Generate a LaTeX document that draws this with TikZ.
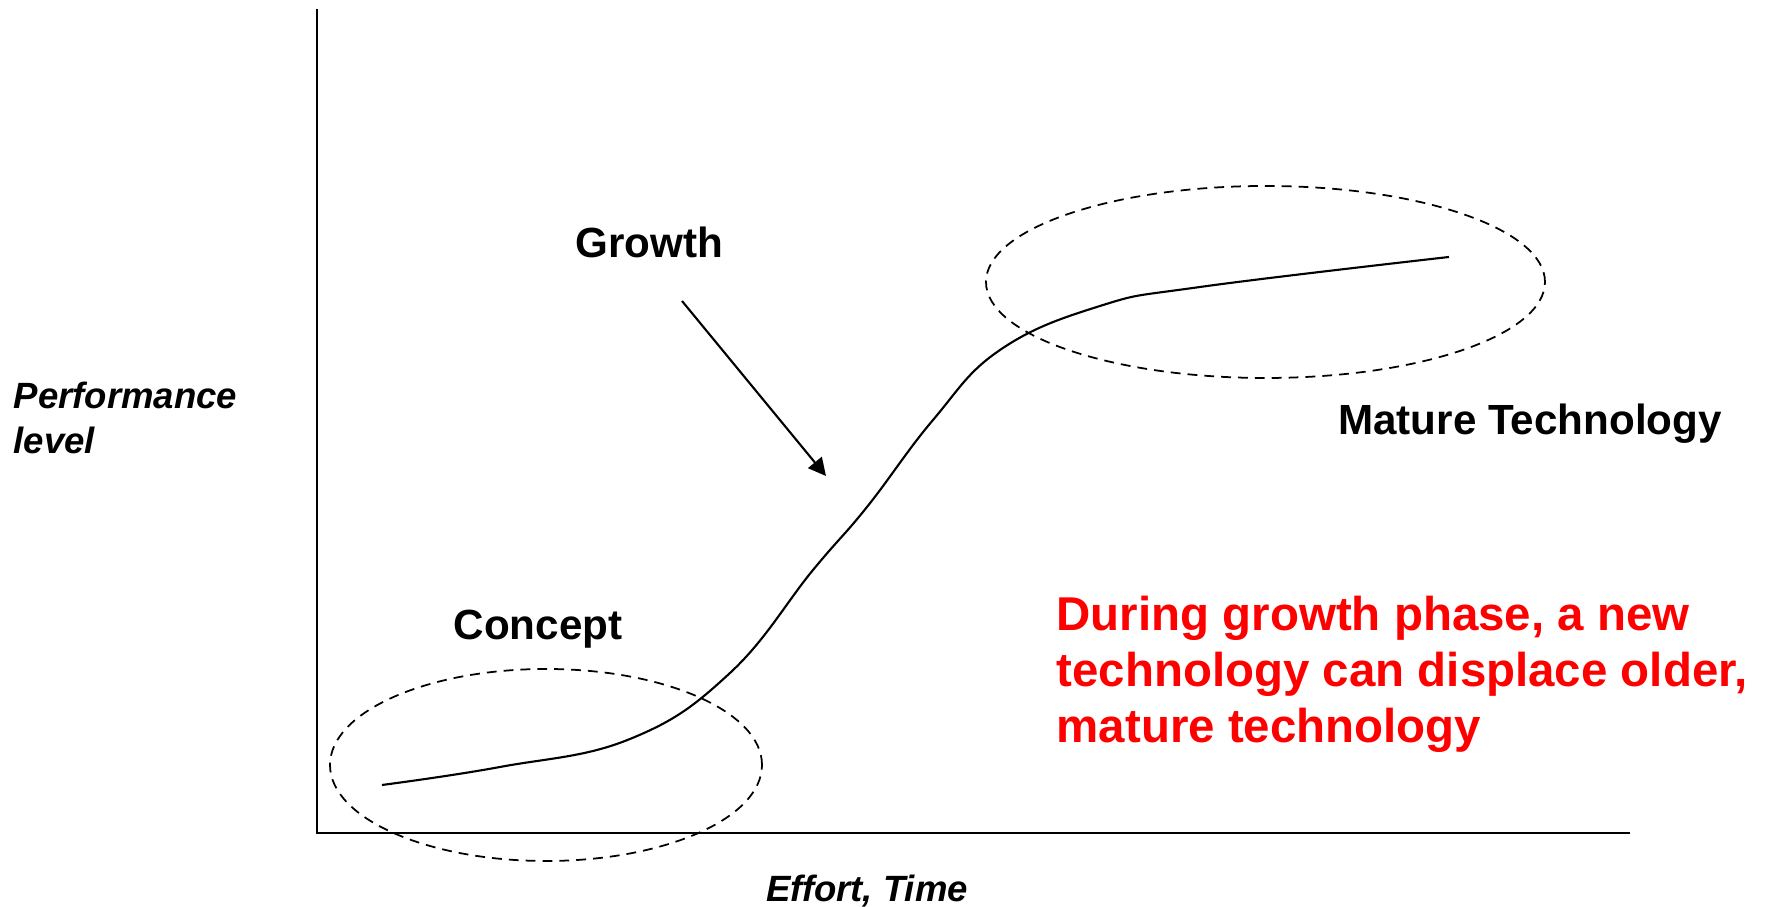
\documentclass[tikz,border=0pt]{standalone}
\usepackage{fontspec}
\setmainfont{Liberation Sans}
\usepackage{tikz}
\usetikzlibrary{arrows.meta}

\begin{document}
\begin{tikzpicture}[
		phase/.style={font=\bfseries\fontsize{12}{14}\selectfont, inner sep=0pt},
		axislabel/.style={font=\bfseries\itshape\fontsize{10.4}{13}\selectfont, inner sep=0pt},
		note/.style={font=\bfseries\fontsize{13.5}{16}\selectfont, text=red, align=left, inner sep=0pt},
		region/.style={dash pattern=on 2.8pt off 2pt, line width=0.5pt}
	]
	\useasboundingbox (0, 0) rectangle (17.71, 9.07);

	% axes
	\draw[line width=0.8pt] (3.17, 8.98) |- (16.30, 0.74);

	% s-curve
	\draw[line width=0.6pt] plot[smooth, tension=0.7] coordinates {
		(3.82, 1.22) (5.00, 1.40) (6.30, 1.68) (7.30, 2.34) (8.13, 3.37)
		(8.67, 4.00) (9.33, 4.87) (10.00, 5.57) (11.00, 6.01) (12.00, 6.20)
		(14.49, 6.50)};

	% dashed regions
	\draw[region] (5.46, 1.42) ellipse [x radius=2.16, y radius=0.96];
	\draw[region] (12.655, 6.25) ellipse [x radius=2.795, y radius=0.96];

	% labels
	\node[phase, anchor=base] (growth) at (6.49, 6.49) {Growth};
	\node[phase, anchor=base] (concept) at (5.38, 2.67) {Concept};
	\node[phase, anchor=base] (mature) at (15.30, 4.72) {Mature Technology};
	\node[axislabel, anchor=north west, align=left] (ylabel) at (0.13, 5.26) {Performance\\level};
	\node[axislabel, anchor=base] (xlabel) at (8.67, 0.05) {Effort, Time};
	\node[note, anchor=north west] (remark) at (10.56, 3.12)
		{During growth phase, a new\\technology can displace older,\\mature technology};

	% arrow towards the steep part
	\coordinate (arrowstart) at (6.82, 6.06);
	\coordinate (arrowend) at (8.26, 4.31);
	\draw[line width=0.6pt, -{Triangle[length=5pt, width=5pt]}] (arrowstart) -- (arrowend);
\end{tikzpicture}
\end{document}
